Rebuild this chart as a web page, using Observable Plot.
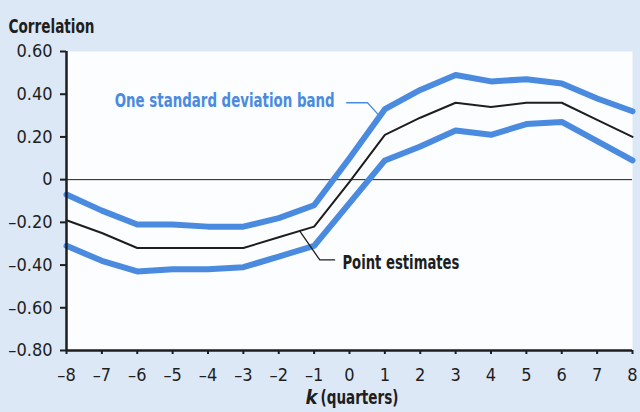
<!DOCTYPE html>
<html>
<head>
<meta charset="utf-8">
<script src="https://cdn.jsdelivr.net/npm/d3@7"></script>
<script src="https://cdn.jsdelivr.net/npm/@observablehq/plot@0.6"></script>
<style>
  html, body { margin: 0; padding: 0; background: #dce8f5; }
  #chart { width: 640px; height: 412px; }
  #chart svg text { font-stretch: condensed; }
</style>
</head>
<body>
<div id="chart"></div>
<script>
// Lag k in quarters
const quarters = [-8, -7, -6, -5, -4, -3, -2, -1, 0, 1, 2, 3, 4, 5, 6, 7, 8];
// Point estimates of the correlation at each lag
const pointEstimates = [-0.19, -0.25, -0.32, -0.32, -0.32, -0.32, -0.27, -0.22, -0.01, 0.21, 0.29, 0.36, 0.34, 0.36, 0.36, 0.28, 0.20];
// One standard deviation band: upper and lower edges
const bandUpper = [-0.07, -0.145, -0.21, -0.21, -0.22, -0.22, -0.18, -0.12, 0.10, 0.33, 0.42, 0.49, 0.46, 0.47, 0.45, 0.38, 0.32];
const bandLower = [-0.31, -0.38, -0.43, -0.42, -0.42, -0.41, -0.36, -0.31, -0.11, 0.09, 0.155, 0.23, 0.21, 0.26, 0.27, 0.18, 0.09];

const yTicks = [-0.8, -0.6, -0.4, -0.2, 0, 0.2, 0.4, 0.6];
const xTicks = quarters;

// Callout labels and their leader lines (in data coordinates)
const bandLabel = {k: -0.42, v: 0.37, text: "One standard deviation band"};
const bandLeader = [{k: -0.08, v: 0.36}, {k: 0.51, v: 0.36}, {k: 0.84, v: 0.30}];
const pointLabel = {k: -0.2, v: -0.39, text: "Point estimates"};
const pointLeader = [{k: -1.41, v: -0.24}, {k: -0.84, v: -0.376}, {k: -0.42, v: -0.376}];

// Set widths for the condensed display texts
const textWidths = {
  "One standard deviation band": 220,
  "Point estimates": 117,
  "Correlation": 86,
  "(quarters)": 78
};

const upperRows = quarters.map((k, i) => ({k, v: bandUpper[i]}));
const lowerRows = quarters.map((k, i) => ({k, v: bandLower[i]}));
const pointRows = quarters.map((k, i) => ({k, v: pointEstimates[i]}));

const FONT = "'DejaVu Sans Condensed', 'DejaVu Sans', sans-serif";
const BLUE = "#4a8be0";
const INK = "#1e1e1e";
const fmt = d => d === 0 ? "0" : (d < 0 ? "\u2013" : "") + Math.abs(d).toFixed(2);

const chart = Plot.plot({
  width: 640,
  height: 412,
  marginLeft: 66,
  marginRight: 8,
  marginTop: 51,
  marginBottom: 62,
  style: {fontFamily: FONT, fontSize: "18px", color: INK, background: "transparent", overflow: "visible"},
  x: {domain: [-8, 8], ticks: xTicks},
  y: {domain: [-0.8, 0.6], ticks: yTicks},
  marks: [
    Plot.frame({fill: "#fbfdff", stroke: null}),
    Plot.axisY({ticks: yTicks, tickFormat: fmt, tickSize: 6, tickPadding: 8, label: null, strokeWidth: 2}),
    Plot.axisX({ticks: xTicks, tickFormat: d => (d < 0 ? "\u2013" : "") + Math.abs(d), tickSize: 4, tickPadding: 14, label: null, strokeWidth: 2}),
    Plot.ruleY([0], {stroke: INK, strokeWidth: 1}),
    Plot.line(upperRows, {x: "k", y: "v", stroke: BLUE, strokeWidth: 6, strokeLinejoin: "round"}),
    Plot.line(lowerRows, {x: "k", y: "v", stroke: BLUE, strokeWidth: 6, strokeLinejoin: "round"}),
    Plot.line(pointRows, {x: "k", y: "v", stroke: INK, strokeWidth: 2}),
    Plot.line(bandLeader, {x: "k", y: "v", stroke: BLUE, strokeWidth: 1.3}),
    Plot.line(pointLeader, {x: "k", y: "v", stroke: INK, strokeWidth: 1.3}),
    Plot.text([bandLabel], {x: "k", y: "v", text: "text", textAnchor: "end", fill: BLUE, fontWeight: "bold", fontSize: 20}),
    Plot.text([pointLabel], {x: "k", y: "v", text: "text", textAnchor: "start", fill: INK, fontWeight: "bold", fontSize: 20}),
    Plot.ruleX([-8], {stroke: INK, strokeWidth: 2.5}),
    Plot.ruleY([-0.8], {stroke: INK, strokeWidth: 2.5}),
    Plot.text(["Correlation"], {frameAnchor: "top-left", dx: -58, dy: -33, textAnchor: "start", fontWeight: "bold", fontSize: 20, fill: INK}),
    Plot.text(["k"], {frameAnchor: "bottom", dx: -44, dy: 53, textAnchor: "start", fontWeight: "bold", fontStyle: "italic", fontSize: 20, fill: INK}),
    Plot.text(["(quarters)"], {frameAnchor: "bottom", dx: -29, dy: 53, textAnchor: "start", fontWeight: "bold", fontSize: 20, fill: INK})
  ]
});

d3.select(chart).selectAll("text").each(function() {
  const w = textWidths[this.textContent];
  if (w) {
    this.setAttribute("textLength", w);
    this.setAttribute("lengthAdjust", "spacingAndGlyphs");
  }
});

document.getElementById("chart").append(chart);
</script>
</body>
</html>
